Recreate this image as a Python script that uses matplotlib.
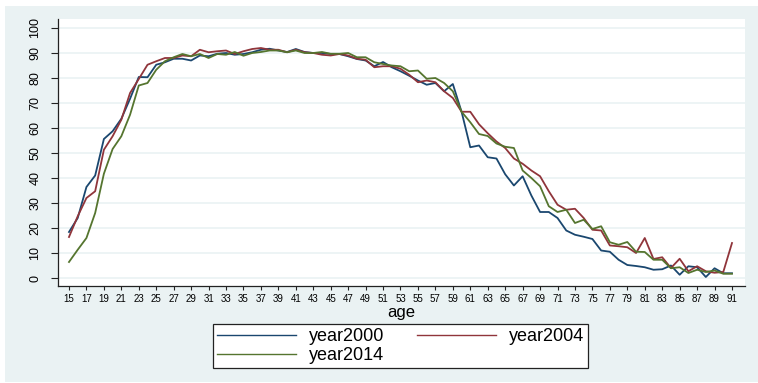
import numpy as np
import matplotlib
matplotlib.use("Agg")
import matplotlib.pyplot as plt
from matplotlib.patches import Rectangle

# share of age group (in %) by age, three survey years
ages = np.arange(15, 92)

year2000 = [18.4, 24, 36.4, 41, 55.6, 58.7, 63.7, 71.7, 80.4, 80.3,
            85.3, 86.3, 87.7, 87.7, 87, 89, 88.7, 89.7, 90, 89.3,
            89.6, 90.3, 91.3, 91.7, 91, 90.4, 91.6, 90.4, 90, 90,
            89.6, 89.6, 88.7, 87.6, 87, 84.7, 86.4, 84.3, 82.7, 80.9,
            79, 77.3, 78, 74.7, 77.6, 66.5, 52.3, 53, 48.3, 47.8,
            41.5, 37, 40.7, 33, 26.4, 26.4, 24, 19, 17.3, 16.5,
            15.6, 11, 10.5, 7.3, 5.2, 4.8, 4.3, 3.3, 3.5, 5,
            1.3, 4.7, 4.3, 0.4, 3.9, 1.9, 1.9]

year2004 = [16.4, 24.7, 32, 34.7, 51.3, 56.7, 63.3, 74, 79.6, 85.3,
            86.7, 88, 88, 89, 88.7, 91.3, 90.3, 90.7, 91, 89.6,
            90.7, 91.6, 92, 91.3, 91.3, 90.3, 91.3, 90.3, 90, 89.3,
            89, 89.6, 89, 87.7, 87.3, 84.3, 84.7, 84.7, 83.7, 81.3,
            78.3, 79, 78.3, 74.7, 72, 66.5, 66.5, 61.5, 57.9, 54.6,
            52, 47.8, 45.7, 43, 40.7, 34.7, 29.3, 27.3, 27.7, 24,
            19.3, 19, 13, 12.7, 12.3, 10, 16, 7.6, 8.3, 4,
            7.7, 2.7, 4.7, 2.7, 2.1, 2.4, 14]

year2014 = [6.4, 11.3, 16, 26, 41.7, 51.6, 56.7, 65.3, 77, 78,
            83.3, 86.7, 88.3, 89.6, 88.7, 89.6, 88, 89.6, 89.3, 90.4,
            88.9, 90, 90.4, 91, 91, 90.3, 91, 90, 90, 90.4,
            89.7, 89.7, 90, 88.3, 88.3, 86.3, 85.6, 85, 84.7, 82.7,
            83, 79.7, 80, 78, 74.7, 66.5, 62.3, 57.6, 56.8, 53.8,
            52.5, 52, 43, 40, 36.7, 28.7, 26.4, 27.3, 22, 23.3,
            19.6, 20.7, 14.3, 13.3, 14.4, 10.5, 10.4, 7.3, 7.3, 3.9,
            4.3, 2, 3.3, 2.4, 3, 1.7, 1.7]

plt.rcParams['font.family'] = ['Liberation Sans', 'DejaVu Sans']

W, H = 758, 383
fig = plt.figure(figsize=(W / 100, H / 100), dpi=100, facecolor="white")

# graph region background
fig.patches.append(Rectangle((5 / W, 1 / H), 753 / W, 376 / H,
                             transform=fig.transFigure, facecolor="#EAF2F3",
                             edgecolor="none", zorder=-5))

ax = fig.add_axes([58 / W, 1 - 286 / H, 687 / W, 267 / H])
ax.set_facecolor("white")

ax.plot(ages, year2000, color="#1A476F", lw=1.3, label="year2000")
ax.plot(ages, year2004, color="#90353B", lw=1.3, label="year2004")
ax.plot(ages, year2014, color="#55752F", lw=1.3, label="year2014")

ax.set_xlim(13.74, 92.49)
ax.set_ylim(-3.2, 103.6)
ax.set_xticks(np.arange(15, 92, 2))
ax.set_yticks(np.arange(0, 101, 10))
ax.yaxis.grid(True, color="#EAF2F3", lw=1.2)
ax.set_axisbelow(True)

for s in ["top", "right"]:
    ax.spines[s].set_visible(False)
for s in ["left", "bottom"]:
    ax.spines[s].set_color("#222222")
    ax.spines[s].set_linewidth(0.9)

ax.tick_params(axis="x", length=3, width=0.8, color="#222222", pad=2.5,
               labelsize=7)
ax.tick_params(axis="y", length=5, width=0.8, color="#222222", pad=7,
               labelsize=9)
for lbl in ax.get_yticklabels():
    lbl.set_rotation(90)
    lbl.set_va("center")

ax.set_xlabel("age", fontsize=12, labelpad=1)

h, l = ax.get_legend_handles_labels()
order = [0, 2, 1]
leg = fig.legend([h[i] for i in order], [l[i] for i in order],
                 loc="center", bbox_to_anchor=(400.5 / W, 1 - 346 / H),
                 ncol=2, fontsize=13, frameon=True, fancybox=False,
                 framealpha=1, facecolor="white",
                 edgecolor="#222222", handlelength=4.4, handletextpad=0.7,
                 columnspacing=1.8, labelspacing=0.12, borderpad=0.22,
                 borderaxespad=0)
leg.get_frame().set_linewidth(0.9)
for line in leg.get_lines():
    line.set_linewidth(1.0)

fig.savefig("out.png", dpi=100, facecolor="white")
